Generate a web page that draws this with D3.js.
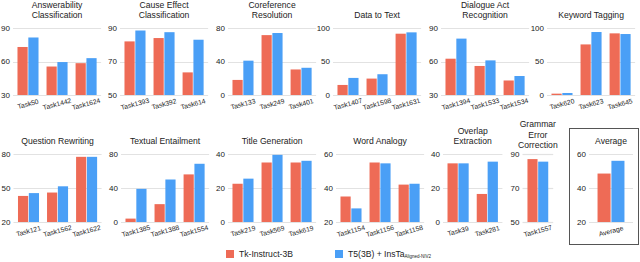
<!DOCTYPE html>
<html>
<head>
<meta charset="utf-8">
<script src="https://cdn.jsdelivr.net/npm/d3@7"></script>
<style>
  body { margin: 0; background: #fff; }
  text { font-family: "Liberation Sans", Arial, sans-serif; fill: #222; }
</style>
</head>
<body>
<div id="chart"></div>
<script>
// panel titles (one entry per panel, lines split by "|")
var titles = [
  "Answerability|Classification", "Cause Effect|Classification", "Coreference|Resolution",
  "Data to Text", "Dialogue Act|Recognition", "Keyword Tagging",
  "Question Rewriting", "Textual Entailment", "Title Generation", "Word Analogy",
  "Overlap|Extraction", "Grammar|Error|Correction", "Average"
];
var tasks = [
  ["Task50", "Task1442", "Task1624"], ["Task1393", "Task392", "Task614"], ["Task133", "Task249", "Task401"],
  ["Task1407", "Task1598", "Task1631"], ["Task1394", "Task1533", "Task1534"], ["Task620", "Task623", "Task645"],
  ["Task121", "Task1562", "Task1622"], ["Task1385", "Task1388", "Task1554"], ["Task219", "Task569", "Task619"],
  ["Task1154", "Task1156", "Task1158"], ["Task39", "Task281"], ["Task1557"], ["Average"]
];
var tkInstruct = [
  [73, 55.5, 58.5], [82, 84, 63.5], [18, 71.5, 30.5],
  [15, 24.5, 91.5], [62.5, 56, 43], [2, 75.5, 92],
  [43, 46, 77.5], [4, 21, 56], [22.5, 35, 35],
  [35, 55, 42], [34.5, 16.5], [87], [48.5]
];
var t5Insta = [
  [81.5, 59.5, 63], [88.5, 87.5, 83], [41, 74, 32.5],
  [25.5, 31, 93.5], [80.5, 61, 47], [3, 94, 91],
  [45.5, 51.5, 77.5], [39, 50, 68.5], [25.5, 39.5, 36],
  [28, 54.5, 42.5], [34.5, 35.5], [85.5], [56]
];
var yTicks = [
  [30, 60, 90], [50, 70, 90], [0, 40, 80],
  [0, 50, 100], [30, 60, 90], [0, 50, 100],
  [20, 50, 80], [0, 40, 80], [0, 20, 40], [20, 40, 60],
  [0, 20, 40], [50, 70, 90], [20, 40, 60]
];
var seriesNames = ["Tk-Instruct-3B", "T5(3B) + InsTa"];
var colors = ["#ee6b56", "#4a9ff6"];

// layout
var W = 640, H = 262;
var plotLeft = [14, 121, 229, 334, 442, 548, 14.5, 122, 229, 337, 444, 523.5, 590];
var rowTop = [28, 154], rowBottom = [95, 222];
var groupStep = 28.7;

var svg = d3.select("#chart").append("svg")
  .attr("width", W).attr("height", H);

// box around the average panel
svg.append("rect")
  .attr("x", 569.5).attr("y", 128.5)
  .attr("width", 69).attr("height", 116)
  .attr("fill", "none").attr("stroke", "#555").attr("stroke-width", 1);

titles.forEach(function (title, p) {
  var row = p < 6 ? 0 : 1;
  var isAvg = p == 12;
  var n = tasks[p].length;
  var x0 = plotLeft[p];
  var pw = isAvg ? 42 : n * groupStep;
  var g = svg.append("g");

  var x = d3.scaleBand().domain(tasks[p])
    .range([x0, x0 + pw])
    .paddingInner(0.276)
    .paddingOuter(isAvg ? 0.28 : 0.12);
  if (isAvg) x.paddingInner(0);
  var x1 = d3.scaleBand().domain([0, 1]).range([0, x.bandwidth()]).paddingInner(0.06);
  var ticks = yTicks[p];
  var y = d3.scaleLinear().domain([ticks[0], ticks[2]])
    .range([rowBottom[row], rowTop[row]]);

  // gridlines
  g.selectAll(".grid").data(ticks).enter().append("line")
    .attr("x1", x0 - 1).attr("x2", x0 + pw + 1)
    .attr("y1", function (d) { return Math.round(y(d)) + 0.5; })
    .attr("y2", function (d) { return Math.round(y(d)) + 0.5; })
    .attr("stroke", "#e2e2e2").attr("stroke-width", 1.2);

  // y labels
  g.selectAll(".ylab").data(ticks).enter().append("text")
    .attr("x", x0 - 4).attr("y", function (d) { return y(d); })
    .attr("dy", "0.35em").attr("text-anchor", "end")
    .attr("font-size", 8).text(function (d) { return d; });

  // bars
  var vals = [tkInstruct[p], t5Insta[p]];
  tasks[p].forEach(function (t, i) {
    [0, 1].forEach(function (s) {
      g.append("rect")
        .attr("x", x(t) + x1(s))
        .attr("width", x1.bandwidth())
        .attr("y", y(vals[s][i]))
        .attr("height", y(ticks[0]) - y(vals[s][i]))
        .attr("fill", colors[s]);
    });
  });

  // x labels, tilted
  g.selectAll(".xlab").data(tasks[p]).enter().append("text")
    .attr("transform", function (d) {
      return "translate(" + (x(d) + x.bandwidth() / 2) + "," + (rowBottom[row] + 9) + ") rotate(-15)";
    })
    .attr("text-anchor", "middle").attr("dy", "0.35em")
    .attr("font-size", 6.8).text(function (d) { return d; });

  // title
  var lines = title.split("|");
  var lastY = rowTop[row] - 13 + (lines.length > 2 ? 4 : 0);
  lines.forEach(function (l, k) {
    g.append("text")
      .attr("x", x0 + pw / 2)
      .attr("y", lastY - (lines.length - 1 - k) * 10.3)
      .attr("dy", "0.35em").attr("text-anchor", "middle")
      .attr("font-size", 8.6).text(l);
  });
});

// legend
var legX = [226, 335];
seriesNames.forEach(function (name, s) {
  svg.append("rect")
    .attr("x", legX[s]).attr("y", 250)
    .attr("width", 8).attr("height", 8)
    .attr("fill", colors[s]);
  var t = svg.append("text")
    .attr("x", legX[s] + 13).attr("y", 254).attr("dy", "0.35em")
    .attr("font-size", 8.6).text(name);
  if (s == 1) {
    t.append("tspan").attr("font-size", 4.5).attr("dy", "0.25em").text("Aligned-NIV2");
  }
});
</script>
</body>
</html>
